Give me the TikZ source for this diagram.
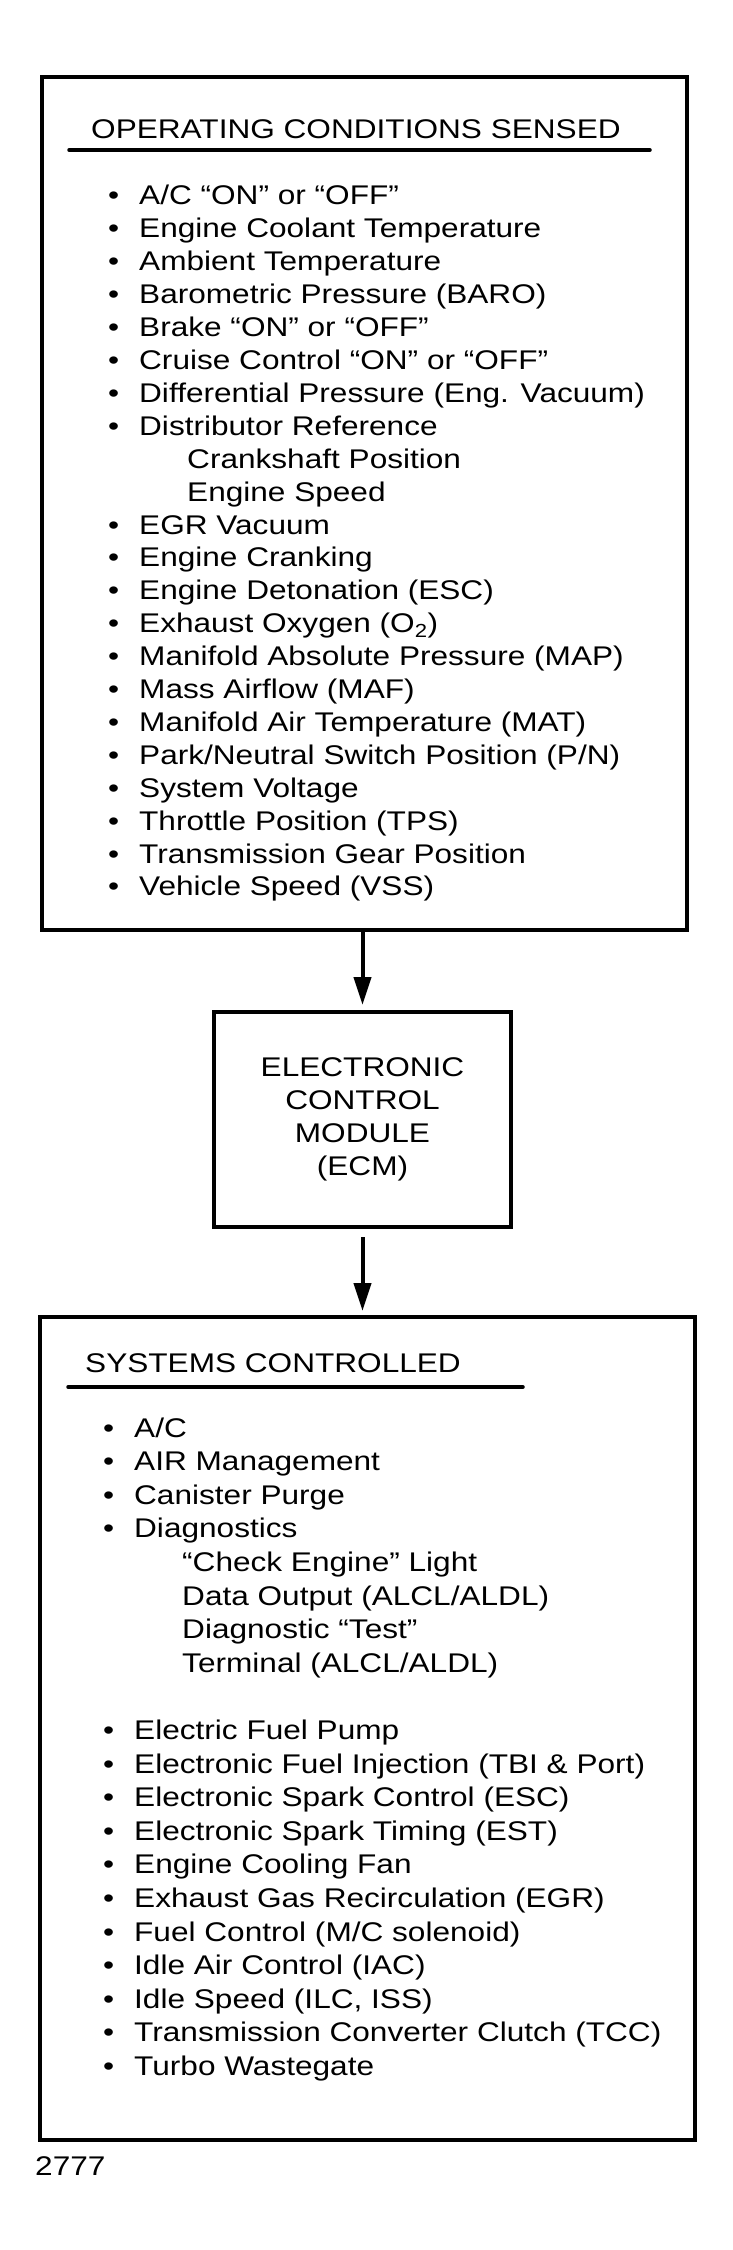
\documentclass[tikz,border=0pt]{standalone}
\usepackage{fontspec}
\setmainfont{Liberation Sans}[FakeStretch=1.17]
\usetikzlibrary{arrows.meta}

\newcommand{\itm}[1]{\makebox[31pt][l]{\textbullet}#1}
\newcommand{\subitm}[1]{\hspace*{79pt}#1}

\begin{document}
\begin{tikzpicture}[x=1pt, y=-1pt,
    font=\fontsize{27}{33}\selectfont,
    box/.style={draw, line width=4pt, inner sep=0pt},
    item/.style={anchor=base west, inner sep=0pt},
    uline/.style={line width=3.5pt, line cap=round},
    arr/.style={line width=4pt, -{Triangle[length=28pt,width=17pt]}}]
    \useasboundingbox (0,0) rectangle (732,2250);

    % Jutiklių blokas
    \node[box, minimum width=645pt, minimum height=853pt] (sensed) at (364.5,503.5) {};
    \node[item] (sensedtitle) at (91,139) {OPERATING CONDITIONS SENSED};
    \draw[uline] (69,150) -- (650,150);
    \foreach \txt [count=\i] in {
        {\itm{A/C “ON” or “OFF”}},
        {\itm{Engine Coolant Temperature}},
        {\itm{Ambient Temperature}},
        {\itm{Barometric Pressure (BARO)}},
        {\itm{Brake “ON” or “OFF”}},
        {\itm{Cruise Control “ON” or “OFF”}},
        {\itm{Differential Pressure (Eng. Vacuum)}},
        {\itm{Distributor Reference}},
        {\subitm{Crankshaft Position}},
        {\subitm{Engine Speed}},
        {\itm{EGR Vacuum}},
        {\itm{Engine Cranking}},
        {\itm{Engine Detonation (ESC)}},
        {\itm{Exhaust Oxygen (O\textsubscript{2})}},
        {\itm{Manifold Absolute Pressure (MAP)}},
        {\itm{Mass Airflow (MAF)}},
        {\itm{Manifold Air Temperature (MAT)}},
        {\itm{Park/Neutral Switch Position (P/N)}},
        {\itm{System Voltage}},
        {\itm{Throttle Position (TPS)}},
        {\itm{Transmission Gear Position}},
        {\itm{Vehicle Speed (VSS)}}}{
        \node[item] (in\i) at (108, 205+32.9*\i-32.9) {\txt};
    }

    % Valdymo modulis
    \node[box, minimum width=297pt, minimum height=215pt, align=center] (ecm) at (362.5,1119.5)
        {ELECTRONIC\\CONTROL\\MODULE\\(ECM)};

    % Valdomos sistemos
    \node[box, minimum width=655pt, minimum height=823pt] (controlled) at (367.5,1728.5) {};
    \node[item] (controlledtitle) at (85,1372) {SYSTEMS CONTROLLED};
    \draw[uline] (68,1387) -- (523,1387);
    \foreach \txt [count=\i] in {
        {\itm{A/C}},
        {\itm{AIR Management}},
        {\itm{Canister Purge}},
        {\itm{Diagnostics}},
        {\subitm{“Check Engine” Light}},
        {\subitm{Data Output (ALCL/ALDL)}},
        {\subitm{Diagnostic “Test”}},
        {\subitm{Terminal (ALCL/ALDL)}}}{
        \node[item] (out\i) at (103, 1437+33.6*\i-33.6) {\txt};
    }
    \foreach \txt [count=\i from 10] in {
        {\itm{Electric Fuel Pump}},
        {\itm{Electronic Fuel Injection (TBI \& Port)}},
        {\itm{Electronic Spark Control (ESC)}},
        {\itm{Electronic Spark Timing (EST)}},
        {\itm{Engine Cooling Fan}},
        {\itm{Exhaust Gas Recirculation (EGR)}},
        {\itm{Fuel Control (M/C solenoid)}},
        {\itm{Idle Air Control (IAC)}},
        {\itm{Idle Speed (ILC, ISS)}},
        {\itm{Transmission Converter Clutch (TCC)}},
        {\itm{Turbo Wastegate}}}{
        \node[item] (out\i) at (103, 1437+33.6*\i-33.6) {\txt};
    }

    % Rodyklės
    \draw[arr, shorten >=5pt] (sensed.south -| ecm.north) -- (ecm.north);
    \draw[arr, shorten <=8pt, shorten >=4pt] (ecm.south) -- (ecm.south |- controlled.north);

    \node[item] (fignum) at (35,2175) {2777};
\end{tikzpicture}
\end{document}
